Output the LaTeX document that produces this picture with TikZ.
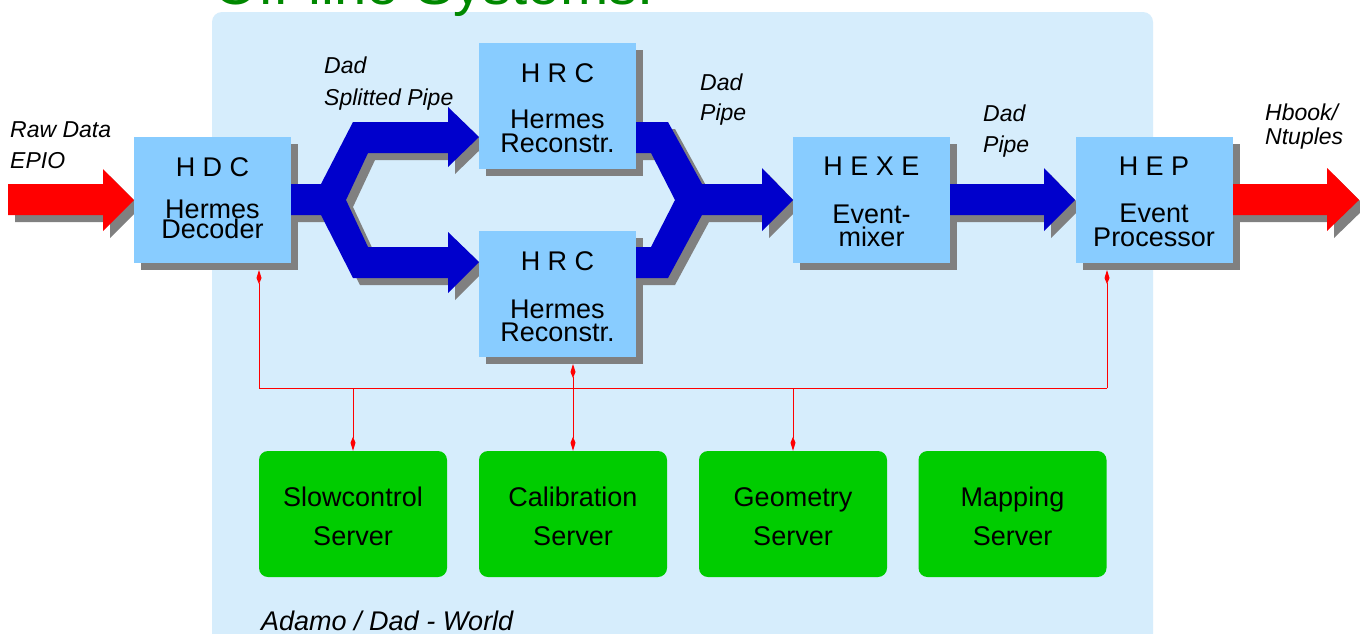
\documentclass[tikz,border=0pt]{standalone}
\usepackage{fontspec}
\setmainfont{Liberation Sans}
\usetikzlibrary{arrows.meta,shadows,calc}
\definecolor{panelblue}{RGB}{214,237,252}
\definecolor{boxblue}{RGB}{136,204,255}
\definecolor{pipeblue}{RGB}{0,0,204}
\definecolor{shadowgray}{RGB}{128,128,128}
\definecolor{servergreen}{RGB}{0,204,0}
\definecolor{titlegreen}{RGB}{0,136,0}
\pgfdeclarelayer{bg}
\pgfdeclarelayer{shadowlayer}
\pgfsetlayers{bg,shadowlayer,main}
\newcommand{\inpipe}[1]{\fill[#1] (8,184) -- (103,184) -- (103,169) -- (134,200) -- (103,231) -- (103,215) -- (8,215) -- cycle;}
\newcommand{\outpipe}[1]{\fill[#1] (1233,184) -- (1327,184) -- (1327,168) -- (1359,200) -- (1327,231) -- (1327,215) -- (1233,215) -- cycle;}
\newcommand{\splitpipe}[1]{\fill[#1] (291,184) -- (321,184) -- (353,122) -- (448,122) -- (448,107) -- (479,137) -- (448,167) -- (448,153) -- (368,153) -- (346,200) -- (368,247) -- (448,247) -- (448,232) -- (479,262) -- (448,293) -- (448,278) -- (353,278) -- (321,215) -- (291,215) -- cycle;}
\newcommand{\mergepipe}[1]{\fill[#1] (636,122) -- (668,122) -- (702,184) -- (762,184) -- (762,168) -- (793,200) -- (762,231) -- (762,215) -- (702,215) -- (668,278) -- (636,278) -- (636,247) -- (651,247) -- (675,200) -- (651,153) -- (636,153) -- cycle;}
\newcommand{\dadpipe}[1]{\fill[#1] (950,184) -- (1044,184) -- (1044,168) -- (1075,200) -- (1044,231) -- (1044,215) -- (950,215) -- cycle;}
\begin{document}
\begin{tikzpicture}[x=1pt,y=-1pt,
  procbox/.style={fill=boxblue, inner sep=0pt, minimum width=157pt, minimum height=126pt,
    general shadow={fill=shadowgray, shadow xshift=7pt, shadow yshift=-7pt}},
  serverbox/.style={fill=servergreen, rounded corners=9pt, inner sep=0pt, minimum width=188pt, minimum height=126pt},
  boxtxt/.style={font=\fontsize{27}{28}\selectfont, anchor=base, inner sep=0pt},
  lbl/.style={font=\fontsize{23}{24}\selectfont\itshape, anchor=base west, inner sep=0pt},
  ctl/.style={draw=red, line width=1pt},
  ctlarrow/.style={ctl, -{Kite[length=14pt,width=5pt,inset=6pt]}},
  pshadow/.style={shadowgray, shift={(7,7)}}
]
\useasboundingbox (0,0) rectangle (1360,633);
\begin{pgfonlayer}{bg}
\fill[white] (0,0) rectangle (1360,633);
\fill[panelblue, rounded corners=10pt] (212,660) -- (212,12) -- (1153,12) -- (1153,660);
\end{pgfonlayer}
% title (clipped at top)
\node[font=\fontsize{58}{60}\selectfont, text=titlegreen, anchor=base west, inner sep=0pt] (title) at (213,4.5) {Off-line Systems:};
% pipe shadows
\begin{pgfonlayer}{shadowlayer}
\inpipe{pshadow}
\outpipe{pshadow}
\splitpipe{pshadow}
\mergepipe{pshadow}
\dadpipe{pshadow}
\end{pgfonlayer}
% processing boxes
\node[procbox] (hdc) at (212.5,200) {};
\node[procbox] (hrc1) at (557.5,106) {};
\node[procbox] (hrc2) at (557.5,294) {};
\node[procbox] (hexe) at (871.5,200) {};
\node[procbox] (hep) at (1154,200) {};
% pipes
\inpipe{red}
\outpipe{red}
\splitpipe{pipeblue}
\mergepipe{pipeblue}
\dadpipe{pipeblue}
% box texts
\node[boxtxt] (hdcA) at (212.5,176) {H D C};
\node[boxtxt] (hdcB) at (212.5,218) {Hermes};
\node[boxtxt] (hdcC) at (212.5,238) {Decoder};
\node[boxtxt] (hrcaA) at (557.5,82) {H R C};
\node[boxtxt] (hrcaB) at (557.5,128) {Hermes};
\node[boxtxt] (hrcaC) at (557.5,152) {Reconstr.};
\node[boxtxt] (hrcbA) at (557.5,270) {H R C};
\node[boxtxt] (hrcbB) at (557.5,318) {Hermes};
\node[boxtxt] (hrcbC) at (557.5,341) {Reconstr.};
\node[boxtxt] (hexeA) at (871.5,175) {H E X E};
\node[boxtxt] (hexeB) at (871.5,223) {Event-};
\node[boxtxt] (hexeC) at (871.5,246) {mixer};
\node[boxtxt] (hepA) at (1154,175) {H E P};
\node[boxtxt] (hepB) at (1154,222) {Event};
\node[boxtxt] (hepC) at (1154,246) {Processor};
% servers
\node[serverbox] (slow) at (353,514) {};
\node[serverbox] (calib) at (573,514) {};
\node[serverbox] (geom) at (793,514) {};
\node[serverbox] (mapp) at (1012.5,514) {};
\node[boxtxt] (slowA) at (353,506) {Slowcontrol};
\node[boxtxt] (slowB) at (353,545) {Server};
\node[boxtxt] (calibA) at (573,506) {Calibration};
\node[boxtxt] (calibB) at (573,545) {Server};
\node[boxtxt] (geomA) at (793,506) {Geometry};
\node[boxtxt] (geomB) at (793,545) {Server};
\node[boxtxt] (mappA) at (1012.5,506) {Mapping};
\node[boxtxt] (mappB) at (1012.5,545) {Server};
% labels
\node[lbl] (raw1) at (10,137) {Raw Data};
\node[lbl] (raw2) at (10,168) {EPIO};
\node[lbl] (sp1) at (324,73) {Dad};
\node[lbl] (sp2) at (324,105) {Splitted Pipe};
\node[lbl] (dp1) at (700,90) {Dad};
\node[lbl] (dp2) at (700,120) {Pipe};
\node[lbl] (dq1) at (983,121) {Dad};
\node[lbl] (dq2) at (983,152) {Pipe};
\node[lbl] (hb1) at (1265,120) {Hbook/};
\node[lbl] (hb2) at (1265,144) {Ntuples};
\node[lbl, font=\fontsize{27}{28}\selectfont\itshape] (world) at (261,630) {Adamo / Dad - World};
% control bus
\coordinate (busL) at (259,388);
\coordinate (busR) at (1107,388);
\coordinate (busC) at (573,388);
\coordinate (hdcP) at (259,270);
\coordinate (hepP) at (1107,270);
\coordinate (hrcP) at (573,364);
\draw[ctl] (busL) -- (busR);
\draw[ctlarrow] (busL) -- (hdcP);
\draw[ctlarrow] (busR) -- (hepP);
\draw[ctlarrow] (busC) -- (hrcP);
\draw[ctlarrow] (busC) -- (busC |- calib.north);
\draw[ctlarrow] (busL -| slow.north) -- (slow.north);
\draw[ctlarrow] (busL -| geom.north) -- (geom.north);
\end{tikzpicture}
\end{document}
